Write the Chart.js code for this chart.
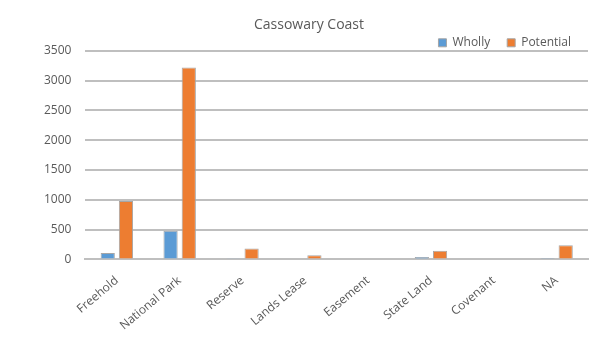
<!DOCTYPE html>
<html>
<head>
<meta charset="utf-8">
<script src="https://cdn.jsdelivr.net/npm/chart.js@4"></script>
<style>
  html, body { margin: 0; padding: 0; background: #fff; }
  #wrap { width: 598px; height: 349px; }
</style>
</head>
<body>
<div id="wrap"><canvas id="tenureChart"></canvas></div>
<script>
const categories = ['Freehold', 'National Park', 'Reserve', 'Lands Lease', 'Easement', 'State Land', 'Covenant', 'NA'];
const wholly = [110, 480, 10, 0, 0, 40, 0, 25];
const potential = [980, 3220, 185, 72, 0, 145, 0, 240];

const grey = '#595959';
const family = "'Open Sans', 'Liberation Sans', sans-serif";
const font = { family: family, size: 12 };

new Chart(document.getElementById('tenureChart'), {
  type: 'bar',
  data: {
    labels: categories,
    datasets: [
      { label: 'Wholly', data: wholly, backgroundColor: '#5b9bd5', borderColor: '#a6a6a6', borderWidth: 1 },
      { label: 'Potential', data: potential, backgroundColor: '#ed7d31', borderColor: '#a6a6a6', borderWidth: 1 }
    ]
  },
  options: {
    responsive: true,
    maintainAspectRatio: false,
    animation: false,
    layout: { padding: { left: 30, right: 10, top: 8, bottom: 10 } },
    datasets: { bar: { categoryPercentage: 0.58, barPercentage: 0.78 } },
    plugins: {
      title: {
        display: true,
        text: 'Cassowary Coast',
        color: grey,
        font: { family: family, size: 14, weight: 'normal' },
        // legend sits tight under the title, so pull it up
        padding: { top: 8.6, bottom: -13.6 }
      },
      legend: {
        position: 'top',
        align: 'end',
        maxHeight: 31,
        labels: {
          color: grey,
          font: font,
          boxWidth: 8,
          boxHeight: 8,
          padding: 17
        }
      },
      tooltip: { enabled: false }
    },
    scales: {
      x: {
        grid: { display: false },
        border: { color: '#bfbfbf', width: 2 },
        ticks: { color: grey, font: font, minRotation: 40, maxRotation: 40, padding: 6 }
      },
      y: {
        min: 0,
        max: 3500,
        ticks: { stepSize: 500, color: grey, font: font, padding: 14, callback: v => String(v) },
        grid: { color: '#bfbfbf', lineWidth: 2, drawTicks: false },
        border: { display: false }
      }
    }
  }
});
</script>
</body>
</html>
